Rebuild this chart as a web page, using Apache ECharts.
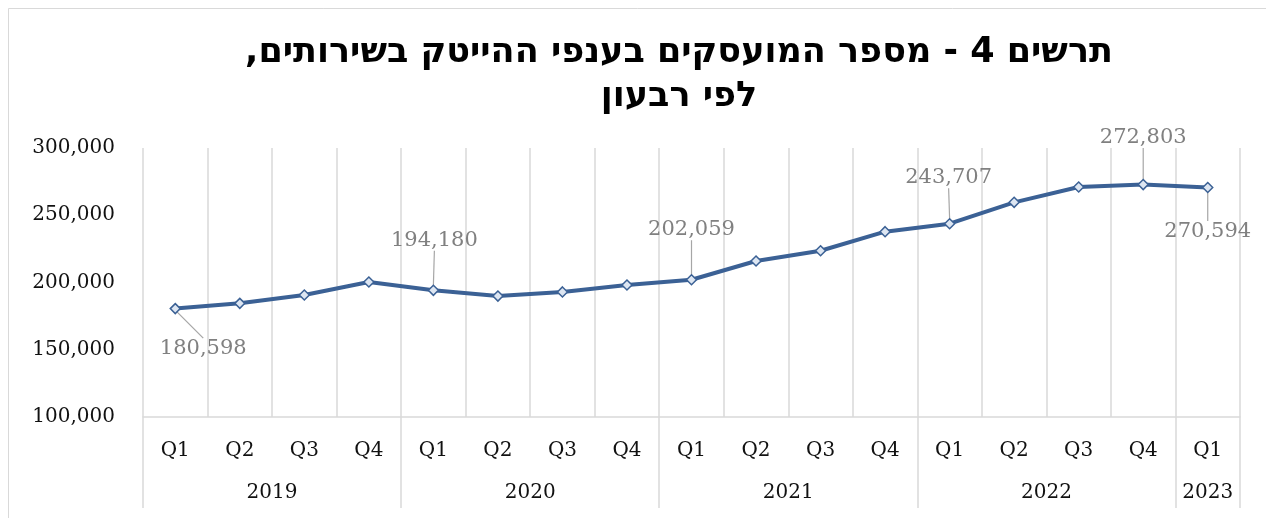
<!DOCTYPE html>
<html><head><meta charset="utf-8">
<script src="https://cdn.jsdelivr.net/npm/echarts@6/dist/echarts.min.js"></script>
<style>html,body{margin:0;padding:0;background:#fff}#c{width:1266px;height:518px}</style>
</head><body><div id="c" dir="rtl"></div>
<script>
// ---- data ----
const titleText = 'תרשים 4 - מספר המועסקים בענפי ההייטק בשירותים,\nלפי רבעון';
const years = ['2019', '2020', '2021', '2022', '2023'];
const quartersPerYear = [4, 4, 4, 4, 1];
const quarters = ['Q1','Q2','Q3','Q4','Q1','Q2','Q3','Q4','Q1','Q2','Q3','Q4','Q1','Q2','Q3','Q4','Q1'];
const employees = [180598, 184500, 190700, 200400, 194180, 189900, 193000, 198100, 202059, 216000, 223600, 237800, 243707, 259600, 271000, 272803, 270594];
const labeledPoints = [0, 4, 8, 12, 15, 16];
const yMin = 100000, yMax = 300000, yStep = 50000;

// ---- year axis built on a half-quarter grid ----
const n = quarters.length;
const yearAxisData = new Array(2 * n + 1).fill('');
const yearTickIdx = [2 * n];
const yearLabelIdx = [];
let start = 0;
years.forEach((y, k) => {
  const cnt = quartersPerYear[k];
  yearTickIdx.push(2 * start);
  yearAxisData[2 * start + cnt] = y;
  yearLabelIdx.push(2 * start + cnt);
  start += cnt;
});

// label offsets (style only)
const labelShift = {0: [28, 40], 4: [1, -50], 8: [0, -50], 12: [-1, -46], 15: [0, -47], 16: [0, 44]};

const fmt = v => Number(v).toLocaleString('en-US');
const serif = '"DejaVu Serif", "Liberation Serif", serif';
const gridColor = '#d9d9d9';

const chart = echarts.init(document.getElementById('c'), null, {renderer: 'canvas'});
chart.setOption({
  animation: false,
  backgroundColor: '#fff',
  graphic: [
    {type: 'rect', shape: {x: 8.5, y: 8.5, width: 1400, height: 700}, style: {fill: 'none', stroke: '#d9d9d9', lineWidth: 1}, silent: true},
    {type: 'text', x: 679, y: 31, style: {text: titleText, fontSize: 35, fontWeight: 'bold', fontFamily: '"DejaVu Sans", "Liberation Sans", sans-serif', fill: '#000', textAlign: 'center', textVerticalAlign: 'top', lineHeight: 44}}
  ],
  grid: {left: 143, right: 26, top: 148, bottom: 101, containLabel: false, outerBoundsMode: 'none'},
  xAxis: [
    {
      type: 'category', data: quarters, boundaryGap: true, position: 'bottom',
      axisLine: {show: true, lineStyle: {color: gridColor, width: 1.5}},
      axisTick: {show: false},
      splitLine: {show: true, lineStyle: {color: gridColor, width: 1.5}},
      axisLabel: {color: '#111', fontFamily: serif, fontSize: 20, margin: 24, interval: 0}
    },
    {
      type: 'category', data: yearAxisData, boundaryGap: false, position: 'bottom', offset: 0,
      axisLine: {show: false},
      axisTick: {show: true, length: 91, interval: (i) => yearTickIdx.includes(i), lineStyle: {color: gridColor, width: 1.5}},
      splitLine: {show: false},
      axisLabel: {color: '#111', fontFamily: serif, fontSize: 20, margin: 66, interval: (i) => yearLabelIdx.includes(i)}
    }
  ],
  yAxis: {
    type: 'value', min: yMin, max: yMax, interval: yStep,
    axisLine: {show: false}, axisTick: {show: false}, splitLine: {show: false},
    axisLabel: {color: '#111', fontFamily: serif, fontSize: 20, margin: 28, formatter: fmt}
  },
  series: [{
    type: 'line',
    xAxisIndex: 0,
    data: employees.map((v, i) => labeledPoints.includes(i) ? {value: v, label: {show: true}, labelLine: {show: true}} : v),
    symbol: 'diamond', symbolSize: 10,
    lineStyle: {color: '#3b6195', width: 4},
    itemStyle: {color: '#dde6f2', borderColor: '#3b6195', borderWidth: 1.5},
    label: {show: false, position: 'inside', color: '#808080', fontFamily: serif, fontSize: 21, formatter: p => fmt(p.value)},
    labelLine: {show: true, lineStyle: {color: '#a6a6a6', width: 1.2}},
    labelLayout: (p) => {
      const s = labelShift[p.dataIndex];
      return s ? {dx: s[0], dy: s[1]} : {};
    },
    emphasis: {disabled: true}
  }]
});
</script></body></html>
